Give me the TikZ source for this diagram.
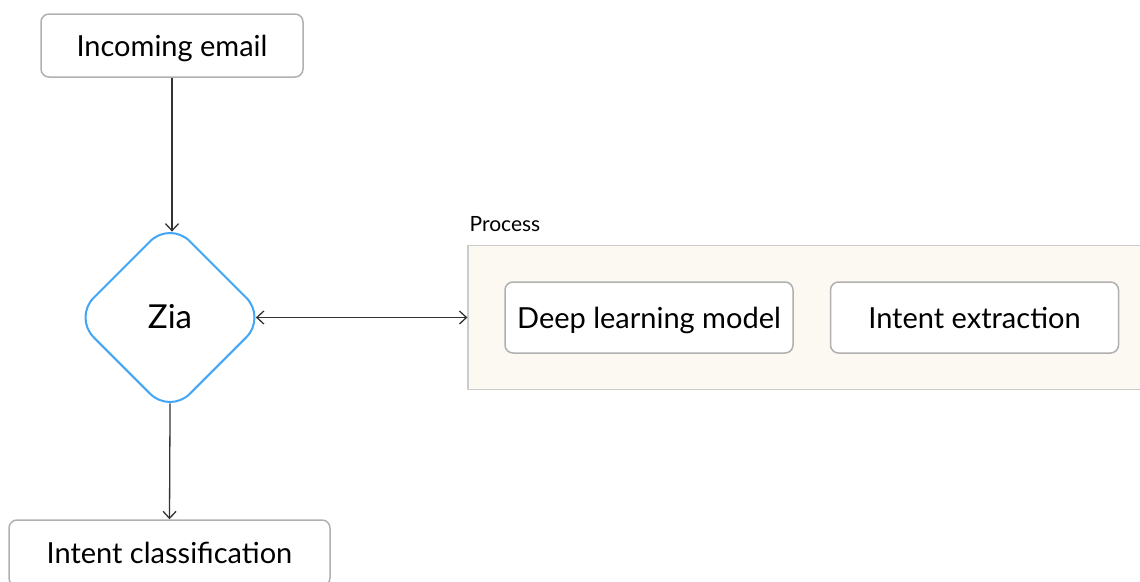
\documentclass[tikz,border=0pt]{standalone}
\usepackage{fontspec}
\setmainfont{Lato}
\usepackage{xcolor}
\usetikzlibrary{positioning,arrows.meta,shapes.geometric}

\definecolor{boxgray}{RGB}{176,176,176}
\definecolor{linegray}{RGB}{51,51,51}
\definecolor{ziablue}{RGB}{66,165,245}
\definecolor{procfill}{RGB}{252,248,242}
\definecolor{procline}{RGB}{204,204,204}

\begin{document}
\begin{tikzpicture}[x=1pt, y=-1pt,
    stepbox/.style={draw=boxgray, line width=1.5pt, rounded corners=8pt,
        fill=white, font=\fontsize{29}{33}\selectfont, inner sep=0pt,
        text height=21pt, text depth=0pt, minimum height=63pt},
    decide/.style={diamond, draw=ziablue, line width=2pt, rounded corners=28pt,
        fill=white, minimum size=193pt, inner sep=0pt,
        font=\fontsize{33}{37}\selectfont, text height=22pt, text depth=0pt},
    procbox/.style={draw=procline, line width=1.2pt, fill=procfill,
        minimum width=682pt, minimum height=144pt, inner sep=0pt},
    flow/.style={-{Straight Barb[length=7pt, width=13pt]}, line width=1.3pt,
        color=linegray},
]
\useasboundingbox (0,0) rectangle (1140,581);
\clip (0,0) rectangle (1140,581);

% Process container, runs past the right edge
\node[procbox] (proc) at (809,317.5) {};
\node[anchor=south west, inner sep=0pt, font=\fontsize{21}{25}\selectfont,
    text depth=0pt] (proclbl) at ([xshift=2pt, yshift=13pt]proc.north west) {Process};
\node[stepbox, minimum width=288pt, minimum height=71pt] (dlm) at (649,317.5) {Deep learning model};
\node[stepbox, minimum width=288pt, minimum height=71pt, right=36pt of dlm] (ext) {Intent extraction};

% Main flow
\node[stepbox, minimum width=262pt] (inc) at (172,45.5) {Incoming email};
\node[decide] (zia) at (170,317.5) {Zia};
\node[stepbox, minimum width=321pt, minimum height=66pt] (cls) at (169.5,553) {Intent classification};

\draw[flow, shorten >=-11.6pt] (inc) -- (inc |- zia.north);
\draw[flow, {Straight Barb[length=7pt, width=13pt]}-{Straight Barb[length=7pt, width=13pt]},
    shorten <=-11.6pt] (zia.east) -- (proc.west);
\draw[flow, shorten <=-11.6pt] (zia.south) -- (cls.north);

\end{tikzpicture}
\end{document}
